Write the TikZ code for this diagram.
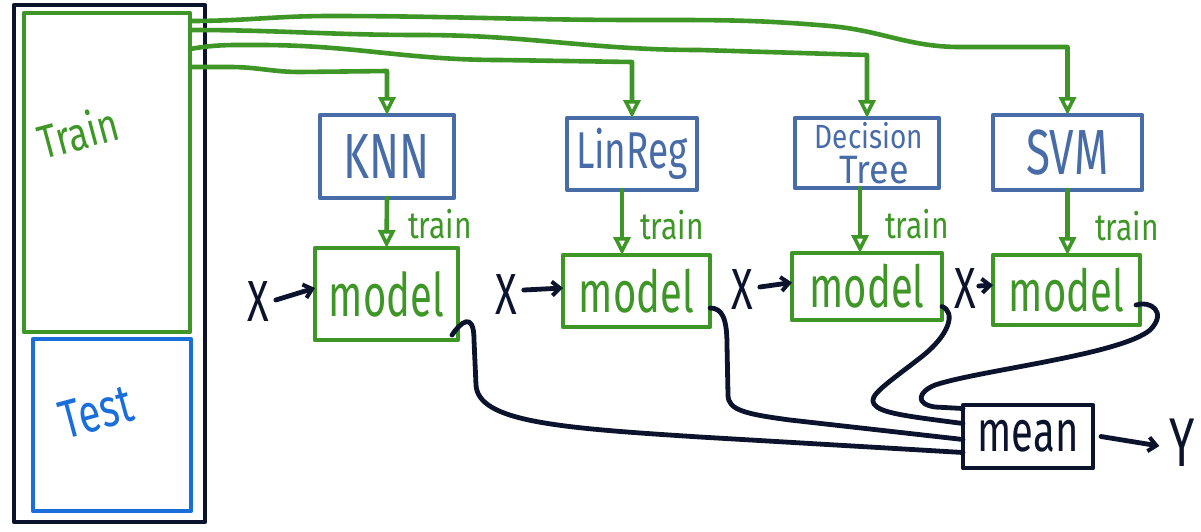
\documentclass[tikz,border=0pt]{standalone}
\usepackage{graphicx}
\usepackage{fontspec}
\setmainfont{Fira Sans}
\usetikzlibrary{arrows.meta}
\definecolor{gr}{RGB}{62,150,38}
\definecolor{bl}{RGB}{72,108,168}
\definecolor{tb}{RGB}{25,110,220}
\definecolor{ink}{RGB}{12,20,45}
\newcommand\hw[2][1.45]{\scalebox{1}[#1]{#2}}
\begin{document}
\begin{tikzpicture}[x=1pt,y=1pt,line cap=round,line join=round,
  every node/.style={inner sep=0pt,outer sep=0pt},
  sz/.style 2 args={minimum width=#1pt,minimum height=#2pt},
  gbox/.style={draw=gr,line width=4.6pt,text=gr},
  bbox/.style={draw=bl,line width=4.2pt,text=bl},
  kbox/.style={draw=ink,line width=4.8pt,text=ink},
  tbox/.style={draw=tb,line width=4.8pt,text=tb},
  gline/.style={draw=gr,line width=4.6pt},
  garrow/.style={gline,-{Triangle[open,length=18pt,width=17pt,line width=3.6pt]}},
  kline/.style={draw=ink,line width=4.8pt},
  karrow/.style={kline,-{Straight Barb[length=8pt,width=14pt,line width=4pt]}},
  big/.style={font=\fontsize{40}{40}\selectfont},
  huge/.style={font=\fontsize{44}{44}\selectfont},
  small/.style={font=\fontsize{30}{30}\selectfont}
]
\useasboundingbox (0,0) rectangle (1201,-531);
% data column
\node[kbox,sz={191}{517}] (outer) at (109.5,-263.5) {};
\node[gbox,sz={166}{319}] (train) at (107,-172.5) {};
\node[tbox,sz={158}{172}] (test) at (112,-425) {};
\node[text=gr,font=\fontsize{36}{36}\selectfont,rotate=15] (trainlbl) at (78,-132) {\hw[1.3]{Train}};
\node[text=tb,font=\fontsize{40}{40}\selectfont,rotate=15] (testlbl) at (96,-412) {\hw[1.35]{Test}};
% learners
\node[bbox,sz={134}{83},huge] (knn) at (387,-156.5) {\hw{KNN}};
\node[bbox,sz={130}{72},font=\fontsize{37}{37}\selectfont] (lin) at (632,-154) {\hw[1.4]{LinReg}};
\node[bbox,sz={144}{70}] (dt) at (867,-153) {};
\node[text=bl,font=\fontsize{28}{28}\selectfont] (dt1) at (869,-136) {\hw[1.2]{Decision}};
\node[text=bl,font=\fontsize{36}{36}\selectfont] (dt2) at (874,-170) {\hw[1.1]{Tree}};
\node[bbox,sz={149}{75},huge] (svm) at (1067.5,-152.5) {\hw{SVM}};
% models
\node[gbox,sz={143}{92},big] (m1) at (386.5,-294) {\hw[1.5]{model}};
\node[gbox,sz={147}{72},big] (m2) at (636.5,-291) {\hw{model}};
\node[gbox,sz={150}{67},big] (m3) at (867,-286.5) {\hw{model}};
\node[gbox,sz={147}{70},big] (m4) at (1066.5,-290) {\hw{model}};
\node[kbox,sz={130}{63},big] (mean) at (1028,-436.5) {\hw{mean}};
% X inputs
\node[text=ink,big] (x1) at (258,-302) {\hw{X}};
\node[text=ink,big] (x2) at (506,-295) {\hw{X}};
\node[text=ink,big] (x3) at (742,-290) {\hw{X}};
\node[text=ink,big] (x4) at (965,-289) {\hw{X}};
\node[text=ink,font=\fontsize{46}{46}\selectfont] (y) at (1182,-443) {\hw[1.5]{Y}};
% train labels
\node[text=gr,small] (tr1) at (440,-224) {\hw[1.25]{train}};
\node[text=gr,small] (tr2) at (672,-225) {\hw[1.25]{train}};
\node[text=gr,small] (tr3) at (917,-224) {\hw[1.25]{train}};
\node[text=gr,small] (tr4) at (1127,-226) {\hw[1.25]{train}};
% data lines from Train
\draw[garrow] ([yshift=-8pt]train.north east) to[out=0,in=180] (330,-16)
  to[out=0,in=180] (640,-20) to[out=0,in=175] (830,-26)
  to[out=-5,in=180] (960,-47) -- (svm.north |- 0,-47) -- (svm.north);
\draw[garrow] ([yshift=-17pt]train.north east) to[out=0,in=180] (420,-35)
  to[out=0,in=180] (700,-50) -- (dt.north |- 0,-55) -- (dt.north);
\draw[garrow] ([yshift=-36pt]train.north east) to[out=10,in=180] (260,-45)
  to[out=0,in=180] (500,-60) -- (lin.north |- 0,-62) -- (lin.north);
\draw[garrow] ([yshift=-54pt]train.north east) to[out=0,in=180] (230,-67)
  to[out=0,in=180] (300,-72) -- (knn.north |- 0,-71) -- (knn.north);
% train arrows
\draw[garrow] (knn.south) -- (m1.north);
\draw[garrow] ([xshift=-10pt]lin.south) -- ([xshift=-10pt]lin.south |- m2.north);
\draw[garrow] ([xshift=-7pt]dt.south) -- ([xshift=-7pt]dt.south |- m3.north);
\draw[garrow] (svm.south) -- (svm.south |- m4.north);
% inputs
\draw[karrow] (x1.east) ++(7,2) -- ([yshift=6pt]m1.west);
\draw[karrow] (x2.east) ++(7,5) -- ([yshift=3pt]m2.west);
\draw[karrow] (x3.east) ++(7,3) -- ([yshift=4pt]m3.west);
\draw[karrow] (x4.east) ++(3,3) -- ([yshift=5pt]m4.west);
% model outputs to mean
\draw[kline] ([xshift=-6pt,yshift=5pt]m1.south east) .. controls +(8,12) and (474,-310) .. (474,-340)
  -- (476,-385) .. controls (478,-422) and (560,-428) .. (700,-437) -- ([yshift=-16pt]mean.west);
\draw[kline] ([yshift=-17pt]m2.east) .. controls (722,-308) and (727,-318) .. (727,-345)
  -- (728,-395) .. controls (728,-410) and (745,-414) .. (790,-420) -- ([yshift=-3pt]mean.west);
\draw[kline] ([yshift=-20pt]m3.east) .. controls (956,-312) and (950,-335) .. (920,-358)
  .. controls (885,-385) and (868,-396) .. (874,-404) .. controls (880,-413) and (905,-416) .. ([yshift=13pt]mean.west);
\draw[kline] ([xshift=-4pt,yshift=-15pt]m4.east) .. controls (1150,-300) and (1168,-312) .. (1150,-330)
  .. controls (1120,-355) and (980,-370) .. (935,-385) .. controls (918,-392) and (915,-404) .. (935,-407)
  -- ([yshift=28pt]mean.west);
% output
\draw[karrow] ([xshift=8pt]mean.east) -- ([xshift=-10pt,yshift=-3pt]y.west);
\end{tikzpicture}
\end{document}
